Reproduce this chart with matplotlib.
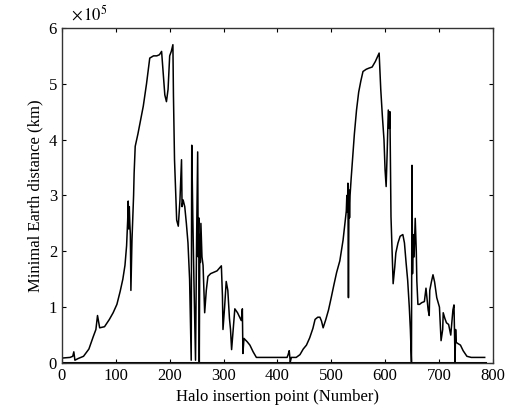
import matplotlib
matplotlib.use("Agg")
import matplotlib.pyplot as plt

# (halo insertion point, minimal Earth distance in 1e5 km)
first_hump = [
    (0, 0.08), (2, 0.09), (15, 0.1), (20, 0.12), (22, 0.2), (24, 0.05), (30, 0.08),
    (40, 0.12), (50, 0.25), (58, 0.47), (63, 0.6), (66, 0.85), (70, 0.63), (79, 0.65),
    (88, 0.78), (95, 0.9), (102, 1.05), (108, 1.28), (113, 1.5), (117, 1.75),
    (120, 2.1), (122, 2.55), (123, 2.9), (124, 2.4), (125, 2.8), (126, 2.5),
    (127, 2.3), (128, 1.3), (130, 2.2), (133, 3.0), (134, 3.4), (136, 3.88),
    (141, 4.1), (146, 4.35), (151, 4.6), (157, 5.0), (163, 5.46), (170, 5.5),
    (176, 5.5), (181, 5.52), (185, 5.58), (188, 5.2), (191, 4.8), (194, 4.68),
    (197, 4.9), (200, 5.5), (203, 5.58), (206, 5.7), (207, 4.8), (209, 3.64),
    (211, 3.1), (213, 2.56), (216, 2.45), (219, 2.9), (222, 3.64), (223, 2.8),
    (225, 2.92), (228, 2.8), (231, 2.5), (234, 2.15), (237, 1.5), (240, 0.05),
    (241, 3.9), (243, 2.6), (245, 1.5), (248, 0.05), (250, 2.2), (252, 3.78),
    (253, 1.9), (254, 2.6), (255, 0.02), (256, 2.3), (257, 1.8), (258, 2.5),
    (260, 1.9), (262, 1.75), (265, 0.9), (268, 1.3), (271, 1.55), (276, 1.6),
    (281, 1.62), (288, 1.65), (296, 1.74), (298, 1.2), (299, 0.6), (302, 1.0),
    (305, 1.46), (308, 1.3), (311, 0.8), (313, 0.6), (315, 0.24), (318, 0.6),
    (321, 0.97), (326, 0.9), (331, 0.8), (333, 0.76), (335, 0.97), (336, 0.17),
    (338, 0.44), (340, 0.42), (344, 0.38), (349, 0.32), (355, 0.2), (361, 0.1),
    (380, 0.1), (400, 0.1),
]
second_hump = [
    (418, 0.1), (420, 0.15), (422, 0.22), (424, 0.02), (426, 0.1), (430, 0.1),
    (435, 0.1), (442, 0.15), (448, 0.25), (454, 0.32), (460, 0.45), (466, 0.62),
    (470, 0.78), (475, 0.82), (479, 0.82), (482, 0.75), (485, 0.63), (490, 0.78),
    (495, 0.95), (500, 1.17), (505, 1.4), (510, 1.62), (516, 1.83), (522, 2.2),
    (526, 2.55), (528, 2.72), (529, 3.0), (530, 2.7), (531, 3.22), (532, 1.17),
    (533, 3.1), (534, 2.6), (535, 3.0), (537, 3.3), (540, 3.7), (543, 4.1),
    (547, 4.53), (551, 4.85), (555, 5.05), (559, 5.22), (565, 5.26), (570, 5.28),
    (576, 5.3), (582, 5.4), (589, 5.55), (592, 4.9), (595, 4.42), (598, 4.0),
    (600, 3.46), (602, 3.16), (604, 3.8), (606, 4.53), (608, 4.2), (609, 4.5),
    (611, 2.62), (613, 2.0), (615, 1.42), (618, 1.72), (620, 1.97), (624, 2.15),
    (628, 2.27), (633, 2.3), (636, 2.15), (639, 1.8), (642, 1.48), (645, 1.0),
    (647, 0.6), (649, 0.02), (650, 3.54), (651, 1.6), (652, 2.3), (654, 1.9),
    (656, 2.59), (658, 2.0), (659, 1.47), (661, 1.05), (664, 1.05), (668, 1.08),
    (673, 1.1), (676, 1.34), (680, 0.95), (682, 0.85), (683, 1.3), (686, 1.45),
    (689, 1.58), (692, 1.45), (696, 1.17), (701, 1.0), (704, 0.4), (707, 0.6),
    (708, 0.9), (711, 0.8), (714, 0.72), (718, 0.69), (722, 0.5), (726, 0.95),
    (728, 1.04), (730, 0.02), (731, 0.6), (732, 0.37), (735, 0.35), (740, 0.32),
    (745, 0.22), (752, 0.12), (760, 0.1), (770, 0.1), (785, 0.1),
]
baseline_x = [0, 785]
baseline_y = [0, 0]

insertion_point = [p[0] for p in first_hump + second_hump]
min_distance = [p[1] for p in first_hump + second_hump]

plt.rcParams["font.family"] = ["Liberation Serif", "DejaVu Serif"]
plt.rcParams["mathtext.fontset"] = "stix"

fig = plt.figure(figsize=(5.08, 4.17), dpi=100)
ax = fig.add_axes([0.122, 0.1295, 0.848, 0.8035])

ax.plot(insertion_point, min_distance, color="black", lw=1.1)
ax.plot(baseline_x, baseline_y, color="black", lw=2.2)

ax.set_xlim(0, 800)
ax.set_ylim(0, 6)
ax.set_xticks(range(0, 801, 100))
ax.set_yticks(range(0, 7))
ax.tick_params(direction="in", top=True, right=True, labelsize=12, length=3, width=0.8)
for s in ax.spines.values():
    s.set_linewidth(1.0)
    s.set_color("#333333")

ax.set_xlabel("Halo insertion point (Number)", fontsize=12)
ax.set_ylabel("Minimal Earth distance (km)", fontsize=12)
ax.text(0.02, 1.01, r"$\times\,10^5$", transform=ax.transAxes, fontsize=12,
        va="bottom", ha="left")

fig.savefig("out.png", dpi=100)
